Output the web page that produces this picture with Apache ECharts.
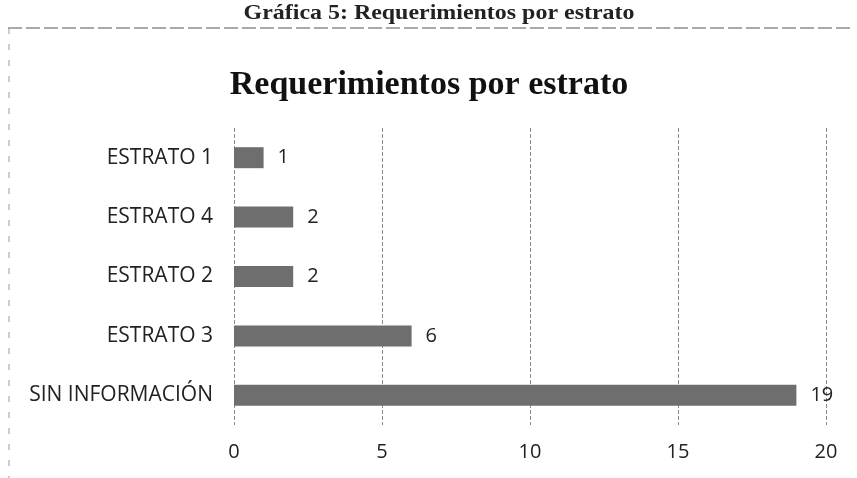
<!DOCTYPE html>
<html><head><meta charset="utf-8">
<script src="https://cdn.jsdelivr.net/npm/echarts@6/dist/echarts.min.js"></script>
<style>html,body{margin:0;padding:0;background:#fff}#c{width:857px;height:478px}</style>
</head><body><div id="c"></div>
<script>
const categories = ['SIN INFORMACIÓN', 'ESTRATO 3', 'ESTRATO 2', 'ESTRATO 4', 'ESTRATO 1'];
const values = [19, 6, 2, 2, 1];
const xTicks = [0, 5, 10, 15, 20];

const chart = echarts.init(document.getElementById('c'));
chart.setOption({
  backgroundColor: '#fff',
  animation: false,
  title: [
    { text: 'Requerimientos por estrato', left: 424, top: 63, textAlign: 'center',
      textStyle: { fontFamily: 'Liberation Serif', fontWeight: 'bold', fontSize: 34, color: '#111' } }
  ],
  graphic: [
    { type: 'text', x: 439, y: 14, scaleX: 1.33, scaleY: 1.15, style: { text: 'Gráfica 5: Requerimientos por estrato',
      font: 'bold 18px "Liberation Serif"', fill: '#222', align: 'center', verticalAlign: 'middle' } },
    { type: 'line', shape: { x1: 8, y1: 28, x2: 850, y2: 28 }, style: { stroke: '#555', lineWidth: 1, lineDash: [14, 4] } },
    { type: 'line', shape: { x1: 9, y1: 28, x2: 9, y2: 478 }, style: { stroke: '#999', lineWidth: 1, lineDash: [6, 10] } }
  ],
  grid: { left: 234, right: 31, top: 128, bottom: 53, containLabel: false },
  xAxis: {
    type: 'value', min: 0, max: 20, interval: 5,
    axisLine: { show: false }, axisTick: { show: false },
    axisLabel: { fontFamily: 'Open Sans', fontSize: 20, color: '#222', margin: 17,
      formatter: v => xTicks.includes(v) ? String(v) : '' },
    splitLine: { show: true, lineStyle: { color: '#8a8a8a', width: 1, type: 'dashed' } }
  },
  yAxis: {
    type: 'category', data: categories,
    axisLine: { show: false }, axisTick: { show: false },
    axisLabel: { fontFamily: 'Open Sans', fontSize: 21, color: '#222', margin: 21 }
  },
  series: [{
    type: 'bar', data: values, barWidth: 21,
    itemStyle: { color: '#6e6e6e' },
    label: { show: true, position: 'right', distance: 14, fontFamily: 'Open Sans', fontSize: 20, color: '#222' }
  }]
});
</script></body></html>
